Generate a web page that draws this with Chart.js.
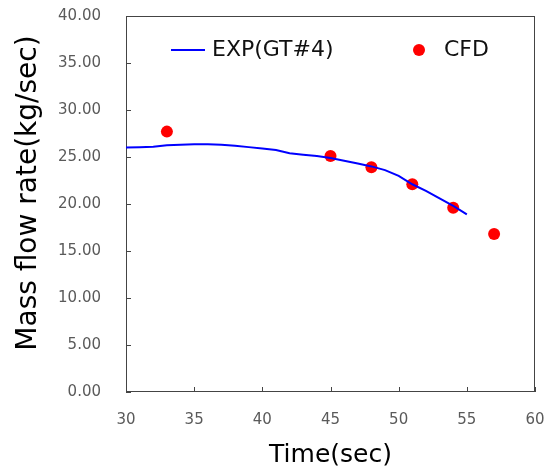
<!DOCTYPE html>
<html>
<head>
<meta charset="utf-8">
<script src="https://cdn.jsdelivr.net/npm/chart.js@4/dist/chart.umd.min.js"></script>
<style>
html,body{margin:0;padding:0;background:#fff;}
#wrap{width:554px;height:474px;position:relative;}
</style>
</head>
<body>
<div id="wrap"><canvas id="c" width="554" height="474"></canvas></div>
<script>
const expTime = [30,31,32,33,34,35,36,37,38,39,40,41,42,43,44,45,46,47,48,49,50,51,52,53,54,55];
const expFlow = [26.0,26.05,26.1,26.25,26.3,26.35,26.35,26.3,26.2,26.05,25.9,25.75,25.4,25.25,25.1,24.9,24.6,24.3,24.0,23.6,23.0,22.1,21.4,20.6,19.8,18.9];
const cfdTime = [33,45,48,51,54,57];
const cfdFlow = [27.7,25.1,23.9,22.1,19.6,16.8];
const xTicks = [30,35,40,45,50,55,60];
const yTicks = [0,5,10,15,20,25,30,35,40];
const expLabel = 'EXP(GT#4)';
const cfdLabel = 'CFD';
const xTitle = 'Time(sec)';
const yTitle = 'Mass flow rate(kg/sec)';

const FONT = '"DejaVu Sans", sans-serif';

const decor = {
  id: 'decor',
  beforeDatasetsDraw(chart) {
    const {ctx, chartArea: a, scales} = chart;
    ctx.save();
    ctx.strokeStyle = '#444';
    ctx.lineWidth = 1;
    ctx.strokeRect(Math.round(a.left)+0.5, Math.round(a.top)+0.5, Math.round(a.right-a.left)-1, Math.round(a.bottom-a.top)-1);
    ctx.beginPath();
    xTicks.forEach(v => {
      const px = Math.round(scales.x.getPixelForValue(v)) + 0.5;
      ctx.moveTo(px, a.bottom); ctx.lineTo(px, a.bottom - 5);
    });
    yTicks.forEach(v => {
      const py = Math.round(scales.y.getPixelForValue(v)) + 0.5;
      ctx.moveTo(a.left, py); ctx.lineTo(a.left + 5, py);
    });
    ctx.stroke();
    ctx.restore();
  },
  afterDraw(chart) {
    const {ctx} = chart;
    ctx.save();
    const ly = 50;
    ctx.strokeStyle = '#0000ff';
    ctx.lineWidth = 2;
    ctx.beginPath(); ctx.moveTo(171, ly); ctx.lineTo(205, ly); ctx.stroke();
    ctx.fillStyle = '#111';
    ctx.font = '22px ' + FONT;
    ctx.textBaseline = 'middle';
    ctx.textAlign = 'left';
    ctx.fillText(chart.data.datasets[0].label, 212, ly);
    ctx.fillStyle = '#ff0000';
    ctx.beginPath(); ctx.arc(419, ly, 6, 0, Math.PI*2); ctx.fill();
    ctx.fillStyle = '#111';
    ctx.fillText(chart.data.datasets[1].label, 444, ly);
    ctx.translate(29, 193);
    ctx.rotate(-Math.PI/2);
    ctx.textAlign = 'center';
    ctx.font = '28px ' + FONT;
    ctx.fillStyle = '#000';
    ctx.fillText(yTitle, 0, 0);
    ctx.restore();
  }
};

new Chart(document.getElementById('c'), {
  type: 'scatter',
  data: {
    datasets: [
      {
        label: expLabel,
        data: expTime.map((t, i) => ({x: t, y: expFlow[i]})),
        showLine: true,
        borderColor: '#0000ff',
        backgroundColor: '#0000ff',
        borderWidth: 2,
        pointRadius: 0,
        tension: 0
      },
      {
        label: cfdLabel,
        data: cfdTime.map((t, i) => ({x: t, y: cfdFlow[i]})),
        showLine: false,
        borderColor: '#ff0000',
        backgroundColor: '#ff0000',
        pointRadius: 6,
        pointBorderWidth: 0
      }
    ]
  },
  options: {
    responsive: false,
    animation: false,
    devicePixelRatio: 1,
    layout: {padding: {top: 16, right: 19, left: 0, bottom: 0}},
    plugins: {legend: {display: false}, tooltip: {enabled: false}},
    scales: {
      x: {
        type: 'linear', min: 30, max: 60,
        afterFit(s) { s.height = 82; s.paddingLeft = 0; s.paddingRight = 0; },
        afterBuildTicks(s) { s.ticks = xTicks.map(v => ({value: v})); },
        grid: {display: false},
        border: {display: false},
        ticks: {padding: 11, color: '#5a5a5a', font: {family: FONT, size: 15}, callback: v => String(v)},
        title: {display: true, text: xTitle, color: '#000', font: {family: FONT, size: 25}, padding: {top: 0, bottom: 4}}
      },
      y: {
        type: 'linear', min: 0, max: 40,
        afterFit(s) { s.width = 126; s.paddingTop = 0; s.paddingBottom = 0; },
        afterBuildTicks(s) { s.ticks = yTicks.map(v => ({value: v})); },
        grid: {display: false},
        border: {display: false},
        ticks: {padding: 17, color: '#5a5a5a', font: {family: FONT, size: 15}, callback: v => Number(v).toFixed(2)}
      }
    }
  },
  plugins: [decor]
});
</script>
</body>
</html>
